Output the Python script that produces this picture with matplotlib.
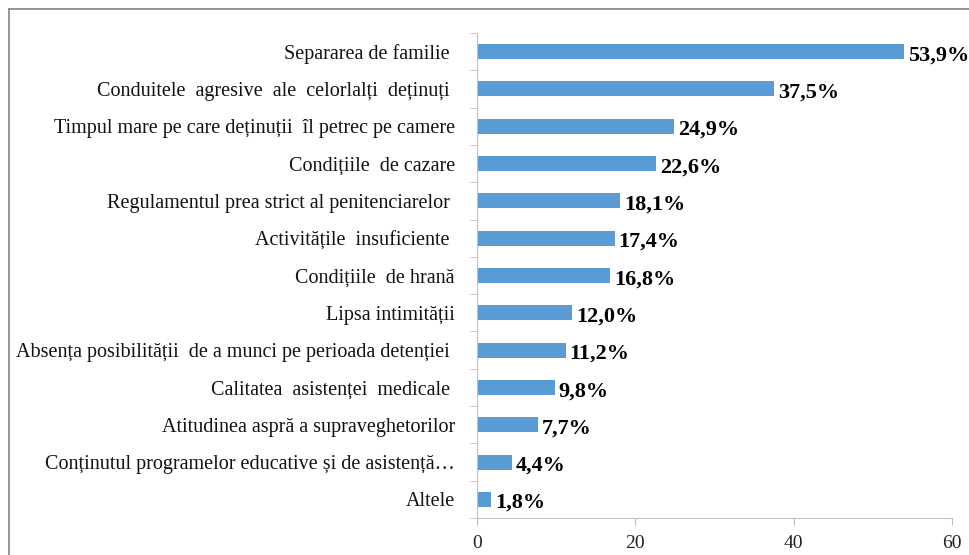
import matplotlib
matplotlib.use('Agg')
from matplotlib import pyplot as plt
from matplotlib.lines import Line2D

categories = [
    'Separarea de familie ',
    'Conduitele  agresive  ale  celorlalți  deținuți ',
    'Timpul mare pe care deținuții  îl petrec pe camere',
    'Condițiile  de cazare',
    'Regulamentul prea strict al penitenciarelor ',
    'Activitățile  insuficiente ',
    'Condițiile  de hrană',
    'Lipsa intimității',
    'Absența posibilității  de a munci pe perioada detenției ',
    'Calitatea  asistenței  medicale ',
    'Atitudinea aspră a supraveghetorilor',
    'Conținutul programelor educative și de asistență…',
    'Altele',
]
values = [53.9, 37.5, 24.9, 22.6, 18.1, 17.4, 16.8, 12.0, 11.2, 9.8, 7.7, 4.4, 1.8]
value_labels = ['53,9%', '37,5%', '24,9%', '22,6%', '18,1%', '17,4%', '16,8%',
                '12,0%', '11,2%', '9,8%', '7,7%', '4,4%', '1,8%']
xticks = [0, 20, 40, 60]

plt.rcParams['font.family'] = ['Liberation Serif', 'DejaVu Serif']

fig = plt.figure(figsize=(9.7, 5.55), dpi=100)
ax = fig.add_axes([477 / 970, 1 - 518 / 555, 475 / 970, 485 / 555])

# outer frame (only top and left edges visible in the picture)
fig.add_artist(Line2D([9 / 970, 9 / 970], [0, 1 - 9 / 555], transform=fig.transFigure,
                      color='#8c8c8c', lw=1.3))
fig.add_artist(Line2D([9 / 970, 1], [1 - 9 / 555, 1 - 9 / 555], transform=fig.transFigure,
                      color='#8c8c8c', lw=1.3))

pos = list(range(len(categories)))[::-1]
ax.barh(pos, values, height=0.4, color='#5b9bd5')

for p, v, lab in zip(pos, values, value_labels):
    ax.text(v + 0.5, p - 0.1, lab, ha='left', va='center', fontsize=16,
            fontweight='bold', color='black')

ax.set_xlim(0, 60)
ax.set_ylim(-0.5, len(categories) - 0.5)
ax.set_xticks(xticks)
ax.set_xticklabels([str(t) for t in xticks], fontsize=14, color='#222222')

ax.set_yticks(pos)
ax.set_yticklabels(categories, fontsize=14.5, color='#111111')
ax.set_yticks([i - 0.5 for i in range(len(categories) + 1)], minor=True)
ax.tick_params(axis='y', which='major', length=0, pad=16)
ax.tick_params(axis='y', which='minor', length=5, color='#bfbfbf', direction='out')
ax.tick_params(axis='x', length=5, color='#bfbfbf', direction='out', pad=7)

for side in ['top', 'right']:
    ax.spines[side].set_visible(False)
for side in ['left', 'bottom']:
    ax.spines[side].set_color('#bfbfbf')

fig.savefig('out.png', dpi=100)
